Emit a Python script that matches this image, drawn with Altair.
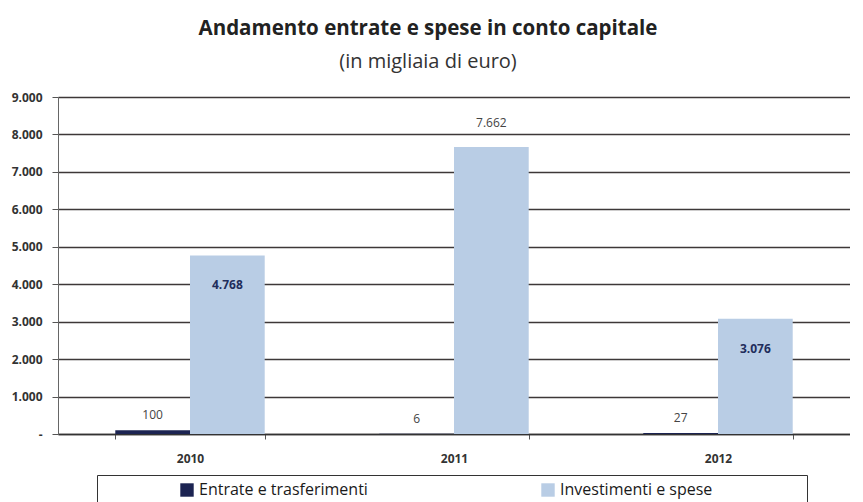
import altair as alt
import pandas as pd

years = ["2010", "2011", "2012"]
series = ["Entrate e trasferimenti", "Investimenti e spese"]
entrate = [100, 6, 27]
investimenti = [4768, 7662, 3076]
y_ticks = [0, 1000, 2000, 3000, 4000, 5000, 6000, 7000, 8000, 9000]

rows = []
for i, yr in enumerate(years):
    rows.append({"anno": yr, "serie": series[0], "valore": entrate[i]})
    rows.append({"anno": yr, "serie": series[1], "valore": investimenti[i]})
df = pd.DataFrame(rows)

FONT = "Open Sans"
DARK = "#1c2452"
LIGHT = "#b9cde5"
NBSP = "\u00a0"
ZWSP = "\u200b"

x_enc = alt.X(
    "anno:N", title=None, sort=years,
    scale=alt.Scale(paddingInner=0.434, paddingOuter=0.217),
    axis=alt.Axis(labelAngle=0, labelFont=FONT, labelFontWeight="bold", labelFontSize=12,
                  labelColor="#333333", tickBand="extent", tickSize=5, tickColor="#555555",
                  domain=True, domainColor="#333333", domainWidth=1.5, labelPadding=14, grid=False),
)
xoff = alt.XOffset("serie:N", sort=series)

label_expr = "datum.value == 0 ? '-' : replace(format(datum.value, ',d'), ',', '.')"

y_enc = alt.Y(
    "valore:Q", title=None, scale=alt.Scale(domain=[0, 9000], nice=False),
    axis=alt.Axis(values=y_ticks, labelExpr=label_expr, labelFont=FONT, labelFontWeight="bold",
                  labelFontSize=12, labelColor="#333333", tickSize=6, tickColor="#555555",
                  labelPadding=10, labelOverlap=False, domain=True, domainColor="#666666",
                  grid=True, gridColor="#3d3838", gridWidth=1.4),
)

base = alt.Chart(df).transform_calculate(
    etichetta="replace(format(datum.valore, ',d'), ',', '.')"
)

legend_label_expr = (
    "datum.label == '" + series[1] + "' ? pad(datum.label, 41, '" + NBSP + "') + '" + ZWSP + "' : datum.label"
)

bars = base.mark_bar().encode(
    x=x_enc,
    xOffset=xoff,
    y=y_enc,
    color=alt.Color("serie:N", sort=series,
                    scale=alt.Scale(domain=series, range=[DARK, LIGHT]),
                    legend=alt.Legend(
                        orient="none", legendX=39, legendY=378, direction="horizontal", columns=2,
                        title=NBSP, titleOrient="left", titlePadding=75, titleFontSize=16,
                        symbolType="square", symbolSize=180, symbolStrokeWidth=0,
                        labelFont=FONT, labelFontSize=16, labelColor="#1a1a1a", labelLimit=600,
                        labelOffset=4, columnPadding=172, strokeColor="#333333", padding=7,
                        labelExpr=legend_label_expr,
                    )),
)

text_dark = base.transform_filter(alt.datum.serie == series[0]).mark_text(
    font=FONT, fontSize=12, color="#444444", baseline="bottom", dy=-8
).encode(x=x_enc, xOffset=xoff, y=y_enc, text="etichetta:N")

text_above = base.transform_filter(
    (alt.datum.serie == series[1]) & (alt.datum.valore > 7000)
).mark_text(
    font=FONT, fontSize=12, color="#444444", baseline="bottom", dy=-17
).encode(x=x_enc, xOffset=xoff, y=y_enc, text="etichetta:N")

text_inside = base.transform_filter(
    (alt.datum.serie == series[1]) & (alt.datum.valore <= 7000)
).mark_text(
    font=FONT, fontSize=12, fontWeight="bold", color="#1f2d5c", baseline="middle", dy=30
).encode(x=x_enc, xOffset=xoff, y=y_enc, text="etichetta:N")

chart = alt.layer(bars, text_dark, text_above, text_inside).properties(
    width=792, height=337,
    title=alt.TitleParams(
        text="Andamento entrate e spese in conto capitale",
        subtitle="(in migliaia di euro)",
        font=FONT, fontSize=20.5, fontWeight="bold", color="#222222",
        subtitleFont=FONT, subtitleFontSize=20, subtitleColor="#333333",
        subtitlePadding=13, anchor="middle", offset=19, dx=-26,
    ),
    padding={"left": 3, "top": 10, "right": 0, "bottom": 0},
).configure_view(stroke=None).configure(background="white")

chart.save("out.html", embed_options={"renderer": "svg", "actions": False})
